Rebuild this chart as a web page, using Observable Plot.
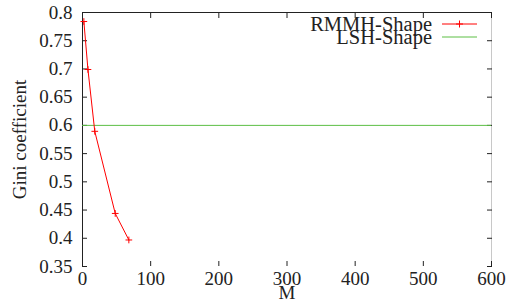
<!DOCTYPE html>
<html><head><meta charset="utf-8">
<script src="https://cdn.jsdelivr.net/npm/d3@7"></script>
<script src="https://cdn.jsdelivr.net/npm/@observablehq/plot@0.6"></script>
<style>
html,body{margin:0;padding:0;background:#fff;}
#wrap{position:relative;width:512px;height:308px;overflow:hidden;}
#wrap svg, #wrap svg text, #wrap svg g {font-family: "Liberation Serif", "DejaVu Serif", "Noto Serif", "Tinos", "FreeSerif", "Nimbus Roman", "Times New Roman", Times, serif !important;}
</style></head><body><div id="wrap"></div>
<script>
// Data
const mValues = [2, 8, 18, 48, 68];
const giniValues = [0.784, 0.699, 0.5895, 0.444, 0.397];
const lshValue = [0.6];
const xTicks = [0, 100, 200, 300, 400, 500, 600];
const yTicks = [0.35, 0.4, 0.45, 0.5, 0.55, 0.6, 0.65, 0.7, 0.75, 0.8];
const seriesNames = ["RMMH-Shape", "LSH-Shape"];

const red = "#ff0000";
const green = "#5cbf45";
const ink = "#222";
const font = "Liberation Serif, DejaVu Serif, serif";

const rmmh = mValues.map((m, i) => ({M: m, gini: giniValues[i]}));
const xDom = [xTicks[0], xTicks[xTicks.length - 1]];
const yDom = [yTicks[0], yTicks[yTicks.length - 1]];
const fmtY = d => String(+d.toFixed(2));

const chart = Plot.plot({
  width: 512, height: 308,
  marginLeft: 82, marginRight: 21, marginTop: 12, marginBottom: 42,
  style: {fontFamily: font, fontSize: "19px", color: ink, background: "white"},
  x: {domain: xDom},
  y: {domain: yDom},
  marks: [
    Plot.ruleX([xDom[1]], {stroke: "#c8c8c8"}),
    Plot.ruleX([xDom[0]], {stroke: ink}),
    Plot.ruleY([yDom[1]], {stroke: ink}),
    Plot.axisX({anchor: "bottom", ticks: xTicks, tickSize: -5, tickPadding: 10, tickFormat: d => String(d),
      label: "M", labelAnchor: "center", labelArrow: "none", labelOffset: 32, fontSize: 19}),
    Plot.axisX({anchor: "top", ticks: xTicks, tickSize: -5, tickFormat: () => "", label: null}),
    Plot.axisY({anchor: "left", ticks: yTicks, tickSize: -5, tickPadding: 15, tickFormat: fmtY,
      label: "Gini coefficient", labelAnchor: "center", labelArrow: "none", labelOffset: 70}),
    Plot.axisY({anchor: "right", ticks: yTicks, tickSize: -5, tickFormat: () => "", label: null}),
    Plot.ruleY(lshValue, {stroke: green, strokeWidth: 1}),
    Plot.line(rmmh, {x: "M", y: "gini", stroke: red, strokeWidth: 1}),
    Plot.dot(rmmh, {x: "M", y: "gini", symbol: "plus", stroke: red, r: 2.3, strokeWidth: 1})
  ]
});

const wrap = document.getElementById("wrap");
wrap.appendChild(chart);

// Legend (gnuplot style, top-right inside plot)
const ns = "http://www.w3.org/2000/svg";
const lg = document.createElementNS(ns, "svg");
lg.setAttribute("width", 512); lg.setAttribute("height", 308);
lg.style.cssText = "position:absolute;left:0;top:0;pointer-events:none;";
const rowY = [24, 37];
const colors = [red, green];
seriesNames.forEach((name, i) => {
  const t = document.createElementNS(ns, "text");
  t.setAttribute("x", 432); t.setAttribute("y", rowY[i]);
  t.setAttribute("text-anchor", "end"); t.setAttribute("dy", "0.32em");
  t.setAttribute("font-size", "20.5px");
  t.setAttribute("fill", ink);
  t.textContent = name;
  lg.appendChild(t);
  const l = document.createElementNS(ns, "line");
  l.setAttribute("x1", 442); l.setAttribute("x2", 477);
  l.setAttribute("y1", rowY[i]); l.setAttribute("y2", rowY[i]);
  l.setAttribute("stroke", colors[i]); l.setAttribute("stroke-width", 1);
  lg.appendChild(l);
  if (i === 0) {
    const p = document.createElementNS(ns, "path");
    p.setAttribute("d", `M459.5,${rowY[i]-3.5}V${rowY[i]+3.5}M456,${rowY[i]}H463`);
    p.setAttribute("stroke", red); p.setAttribute("fill", "none");
    lg.appendChild(p);
  }
});
wrap.appendChild(lg);
</script>
</body></html>
